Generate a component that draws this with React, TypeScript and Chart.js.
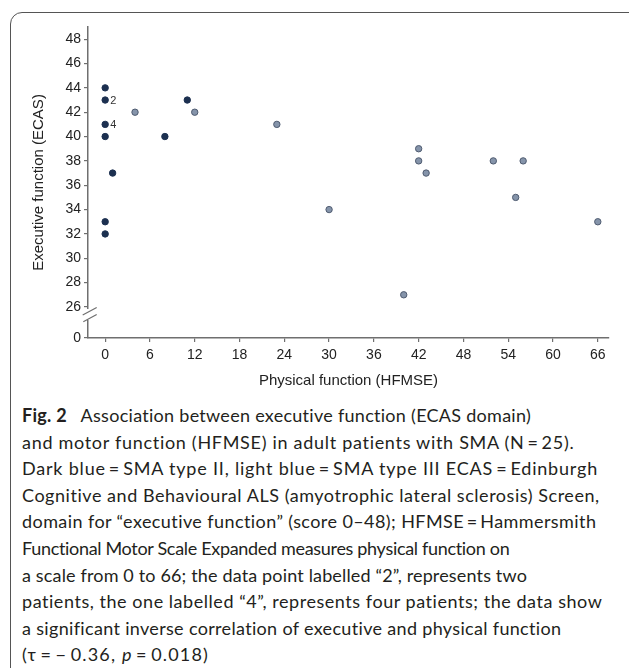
import React, { useEffect, useLayoutEffect, useRef } from "react";
import { Chart, registerables } from "chart.js";

Chart.register(...registerables);

// ---- data ----
const typeIIx = [0, 0, 0, 0, 0, 0, 1, 8, 11];
const typeIIy = [44, 43, 41, 40, 33, 32, 37, 40, 43];
const typeIIn = [1, 2, 4, 1, 1, 1, 1, 1, 1];
const typeIIIx = [4, 12, 23, 30, 40, 42, 42, 43, 52, 55, 56, 66];
const typeIIIy = [42, 42, 41, 34, 27, 39, 38, 37, 38, 35, 38, 33];
const xTicks = [0, 6, 12, 18, 24, 30, 36, 42, 48, 54, 60, 66];
const yTicks = [26, 28, 30, 32, 34, 36, 38, 40, 42, 44, 46, 48];
const yBreakLabel = "0";

const X_MIN = -2.3;
const X_MAX = 67.5;
const Y_MIN = 23.45;
const Y_MAX = 49.0;

const AXIS_COLOR = "#6f6f6f";
const DARK = "#1c3050";
const LIGHT = "#8594aa";
const LIGHT_BORDER = "#4f5b70";
const FONT = "'Liberation Sans', Arial, Helvetica, sans-serif";

const captionLines: React.ReactNode[] = [
  <>
    <b style={{ fontWeight: 700 }}>Fig. 2</b>
    {"\u2002 Association between executive function (ECAS domain)"}
  </>,
  "and motor function (HFMSE) in adult patients with SMA (N\u2009=\u200925).",
  "Dark blue\u2009=\u2009SMA type II, light blue\u2009=\u2009SMA type III ECAS\u2009=\u2009Edinburgh",
  "Cognitive and Behavioural ALS (amyotrophic lateral sclerosis) Screen,",
  "domain for \u201cexecutive function\u201d (score 0\u201348); HFMSE\u2009=\u2009Hammersmith",
  "Functional Motor Scale Expanded measures physical function on",
  "a scale from 0 to 66; the data point labelled \u201c2\u201d, represents two",
  "patients, the one labelled \u201c4\u201d, represents four patients; the data show",
  "a significant inverse correlation of executive and physical function",
  <>
    {"(\u03c4\u2009=\u2009\u2212\u20090.36, "}
    <i>p</i>
    {"\u2009=\u20090.018)"}
  </>,
];
const captionWidths = [510, 553, 576, 578, 575, 488, 505, 581, 540, 187];

const breakPlugin = {
  id: "breakPlugin",
  afterDraw(chart: any) {
    const { ctx, scales } = chart;
    const x = scales.x;
    const y = scales.y;
    const ax = x.getPixelForValue(X_MIN);
    const y26 = y.getPixelForValue(yTicks[0]);
    ctx.save();
    ctx.fillStyle = "#ffffff";
    ctx.fillRect(ax - 3, y26 + 2, 6, 11);
    ctx.strokeStyle = AXIS_COLOR;
    ctx.lineWidth = 1.2;
    ctx.beginPath();
    ctx.moveTo(ax - 5.3, y26 + 8);
    ctx.lineTo(ax + 8.7, y26 + 0.5);
    ctx.moveTo(ax - 4.7, y26 + 14.7);
    ctx.lineTo(ax + 8.7, y26 + 7.5);
    ctx.stroke();
    // count labels
    ctx.fillStyle = "#333333";
    ctx.font = `11px ${FONT}`;
    ctx.textAlign = "left";
    ctx.textBaseline = "middle";
    typeIIx.forEach((vx, i) => {
      if (typeIIn[i] > 1) {
        const px = x.getPixelForValue(vx);
        const py = y.getPixelForValue(typeIIy[i]);
        ctx.fillText(String(typeIIn[i]), px + 5, py + 0.5);
      }
    });
    ctx.restore();
  },
};

export default function App() {
  const ref = useRef<HTMLCanvasElement>(null);
  const lineRefs = useRef<(HTMLSpanElement | null)[]>([]);

  useLayoutEffect(() => {
    const fit = () => {
      lineRefs.current.forEach((el, i) => {
        if (!el) return;
        el.style.letterSpacing = "0px";
        const w = el.getBoundingClientRect().width;
        const n = (el.textContent || "").length;
        if (n > 1) {
          const ls = (captionWidths[i] - w) / n;
          el.style.letterSpacing = `${ls}px`;
        }
      });
    };
    fit();
    if ((document as any).fonts && (document as any).fonts.ready) {
      (document as any).fonts.ready.then(fit);
    }
  }, []);

  useEffect(() => {
    if (!ref.current) return;
    const chart = new Chart(ref.current, {
      type: "scatter",
      data: {
        datasets: [
          {
            label: "SMA type II",
            data: typeIIx.map((vx, i) => ({ x: vx, y: typeIIy[i] })),
            backgroundColor: DARK,
            borderColor: DARK,
            borderWidth: 1,
            pointRadius: 3.2,
          },
          {
            label: "SMA type III",
            data: typeIIIx.map((vx, i) => ({ x: vx, y: typeIIIy[i] })),
            backgroundColor: LIGHT,
            borderColor: LIGHT_BORDER,
            borderWidth: 1,
            pointRadius: 3.2,
          },
        ],
      },
      options: {
        animation: false,
        responsive: false,
        layout: { padding: { left: 0, top: 27, right: 20, bottom: 0 } },
        plugins: {
          legend: { display: false },
          tooltip: { enabled: false },
        },
        scales: {
          x: {
            type: "linear",
            min: X_MIN,
            max: X_MAX,
            afterBuildTicks: (s: any) => {
              s.ticks = xTicks.map((v) => ({ value: v }));
            },
            afterFit: (s: any) => {
              s.height = 62;
            },
            ticks: {
              color: "#222",
              font: { family: FONT, size: 14 },
              padding: 5,
              maxRotation: 0,
              autoSkip: false,
              callback: (v: any) => String(v),
            },
            grid: {
              drawOnChartArea: false,
              drawTicks: true,
              tickLength: 4,
              color: AXIS_COLOR,
              lineWidth: 1.2,
            },
            border: { display: true, color: AXIS_COLOR, width: 1.5 },
            title: {
              display: true,
              text: "Physical function (HFMSE)",
              color: "#222",
              font: { family: FONT, size: 15 },
              padding: { top: 0, bottom: 10 },
            },
          },
          y: {
            type: "linear",
            min: Y_MIN,
            max: Y_MAX,
            afterBuildTicks: (s: any) => {
              s.ticks = [{ value: Y_MIN }, ...yTicks.map((v) => ({ value: v }))];
            },
            afterFit: (s: any) => {
              s.width = 88;
            },
            ticks: {
              color: "#222",
              font: { family: FONT, size: 14 },
              padding: 3,
              autoSkip: false,
              callback: (v: any) => (v === Y_MIN ? yBreakLabel : String(v)),
            },
            grid: {
              drawOnChartArea: false,
              drawTicks: true,
              tickLength: 4,
              color: AXIS_COLOR,
              lineWidth: 1.2,
            },
            border: { display: true, color: AXIS_COLOR, width: 1.5 },
            title: {
              display: true,
              text: "Executive function (ECAS)",
              color: "#222",
              font: { family: FONT, size: 15 },
              padding: { top: 30, bottom: 0 },
            },
          },
        },
      },
      plugins: [breakPlugin],
    });
    return () => chart.destroy();
  }, []);

  return (
    <>
      <div
        style={{
          position: "absolute",
          left: 10,
          top: 12,
          width: 640,
          height: 690,
          border: "1.5px solid #555",
          borderRadius: 12,
          boxSizing: "border-box",
        }}
      />
      <canvas
        ref={ref}
        width={629}
        height={400}
        style={{ position: "absolute", left: 0, top: 0, display: "block" }}
      />
      <div
        style={{
          position: "absolute",
          left: 22,
          top: 402,
          fontFamily: "Lato, 'Noto Sans', sans-serif",
          fontSize: 18,
          lineHeight: "26.6px",
          color: "#231f20",
          whiteSpace: "nowrap",
        }}
      >
        {captionLines.map((l, i) => (
          <div key={i}>
            <span
              ref={(el) => {
                lineRefs.current[i] = el;
              }}
              style={{ display: "inline-block" }}
            >
              {l}
            </span>
          </div>
        ))}
      </div>
    </>
  );
}
